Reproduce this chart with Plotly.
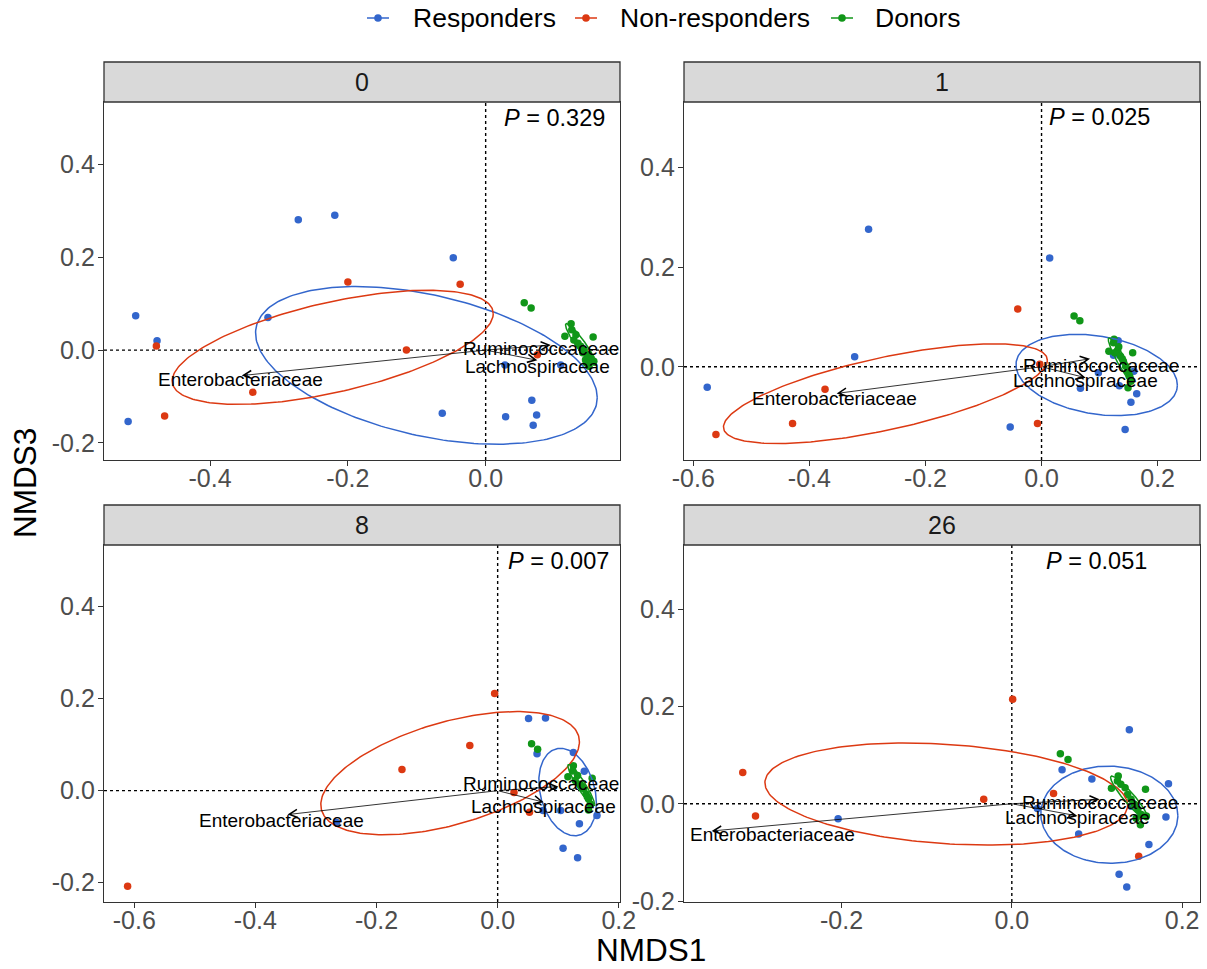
import numpy as np
import plotly.graph_objects as go

# ---------------- data ----------------
panels = ["0", "1", "8", "26"]
p_values = ["0.329", "0.025", "0.007", "0.051"]
groups = ["Responders", "Non-responders", "Donors"]
group_colors = ["#3366CC", "#DC3912", "#109618"]
env_names = ["Enterobacteriaceae", "Ruminococcaceae", "Lachnospiraceae"]

# axis ranges per panel
xrange_0 = [-0.554, 0.195]
yrange_0 = [-0.237, 0.535]
xrange_1 = [-0.616, 0.273]
yrange_1 = [-0.187, 0.531]
xrange_8 = [-0.650, 0.202]
yrange_8 = [-0.242, 0.534]
xrange_26 = [-0.385, 0.221]
yrange_26 = [-0.202, 0.532]

# tick values / labels
xticks_0 = [-0.4, -0.2, 0.0]
yticks_0 = [-0.2, 0.0, 0.2, 0.4]
xticks_1 = [-0.6, -0.4, -0.2, 0.0, 0.2]
yticks_1 = [0.0, 0.2, 0.4]
xticks_8 = [-0.6, -0.4, -0.2, 0.0, 0.2]
yticks_8 = [-0.2, 0.0, 0.2, 0.4]
xticks_26 = [-0.2, 0.0, 0.2]
yticks_26 = [-0.2, 0.0, 0.2, 0.4]

# ---- time 0 ----
resp_x_0 = [-0.272, -0.219, -0.047, -0.508, -0.477, -0.316, -0.519, -0.063, 0.029, 0.067, 0.074, 0.069, 0.028, 0.109]
resp_y_0 = [0.281, 0.291, 0.199, 0.074, 0.020, 0.070, -0.154, -0.136, -0.144, -0.108, -0.140, -0.162, -0.032, -0.032]
nonr_x_0 = [-0.200, -0.037, -0.478, -0.115, -0.338, -0.466, 0.075]
nonr_y_0 = [0.147, 0.142, 0.009, 0.000, -0.091, -0.142, -0.010]
don_x_0 = [0.056, 0.066, 0.124, 0.125, 0.115, 0.131, 0.128, 0.156, 0.138, 0.143, 0.148, 0.153, 0.157, 0.150, 0.145, 0.141, 0.134, 0.146]
don_y_0 = [0.102, 0.091, 0.057, 0.044, 0.030, 0.033, 0.022, 0.028, 0.008, 0.000, -0.010, -0.017, -0.024, -0.035, -0.021, -0.006, 0.015, -0.028]

# ---- time 1 ----
resp_x_1 = [-0.298, 0.014, -0.322, -0.576, -0.054, 0.144, 0.154, 0.164, 0.067, 0.134, 0.098, 0.132, 0.124, 0.159]
resp_y_1 = [0.276, 0.218, 0.020, -0.041, -0.121, -0.126, -0.071, -0.054, -0.043, -0.038, -0.012, 0.052, 0.023, -0.009]
nonr_x_1 = [-0.041, -0.373, -0.429, -0.561, -0.007, -0.003]
nonr_y_1 = [0.116, -0.045, -0.114, -0.136, -0.114, 0.005]
don_x_1 = [0.056, 0.066, 0.125, 0.124, 0.116, 0.131, 0.126, 0.157, 0.136, 0.141, 0.145, 0.148, 0.151, 0.154, 0.149, 0.133, 0.139]
don_y_1 = [0.102, 0.092, 0.055, 0.048, 0.031, 0.033, 0.028, 0.028, 0.021, 0.011, 0.001, -0.009, -0.019, -0.029, -0.042, 0.040, 0.016]

# ---- time 8 ----
resp_x_8 = [0.051, 0.079, 0.065, 0.125, 0.143, 0.075, 0.104, 0.135, 0.164, 0.108, 0.132, -0.266]
resp_y_8 = [0.157, 0.158, 0.080, 0.083, 0.042, -0.043, -0.043, -0.072, -0.054, -0.125, -0.146, -0.069]
nonr_x_8 = [-0.005, -0.046, -0.158, -0.611, 0.027, 0.0525]
nonr_y_8 = [0.211, 0.098, 0.046, -0.208, -0.004, -0.047]
don_x_8 = [0.056, 0.066, 0.125, 0.124, 0.116, 0.132, 0.156, 0.136, 0.142, 0.146, 0.150, 0.153, 0.150, 0.128, 0.139, 0.148]
don_y_8 = [0.102, 0.090, 0.054, 0.043, 0.030, 0.033, 0.027, 0.014, 0.004, -0.007, -0.018, -0.029, -0.042, 0.022, 0.009, -0.013]

# ---- time 26 ----
resp_x_26 = [0.138, 0.059, 0.094, 0.184, 0.181, -0.204, 0.0785, 0.161, 0.126, 0.135, 0.030, 0.140]
resp_y_26 = [0.152, 0.070, 0.051, 0.041, -0.027, -0.031, -0.062, -0.084, -0.145, -0.171, -0.010, -0.005]
nonr_x_26 = [0.001, -0.316, -0.301, -0.033, 0.049, 0.149]
nonr_y_26 = [0.215, 0.064, -0.025, 0.009, 0.021, -0.108]
don_x_26 = [0.057, 0.066, 0.125, 0.124, 0.117, 0.133, 0.157, 0.136, 0.140, 0.144, 0.148, 0.152, 0.158, 0.151, 0.128, 0.146]
don_y_26 = [0.103, 0.091, 0.057, 0.047, 0.032, 0.033, 0.030, 0.019, 0.009, -0.001, -0.012, -0.022, -0.025, -0.043, 0.040, -0.030]

# ellipses: [centre x, centre y, half-width x, half-height y, cos(phase)]
ell_resp_0 = [-0.086, -0.033, 0.248, 0.170, -0.41]
ell_nonr_0 = [-0.222, 0.006, 0.233, 0.123, 0.59]
ell_don_0 = [0.138, 0.012, 0.022, 0.045, -0.93]
ell_resp_1 = [0.095, -0.0165, 0.139, 0.0815, -0.25]
ell_nonr_1 = [-0.269, -0.054, 0.279, 0.100, 0.67]
ell_don_1 = [0.137, 0.013, 0.022, 0.045, -0.93]
ell_resp_8 = [0.1155, -0.003, 0.0475, 0.095, -0.25]
ell_nonr_8 = [-0.0785, 0.038, 0.2135, 0.134, 0.51]
ell_don_8 = [0.138, 0.012, 0.022, 0.045, -0.93]
ell_resp_26 = [0.1145, -0.0225, 0.0805, 0.100, -0.02]
ell_nonr_26 = [-0.077, 0.020, 0.213, 0.105, -0.22]
ell_don_26 = [0.138, 0.012, 0.022, 0.045, -0.93]

# envfit arrow tips and label positions (Entero, Rumino, Lachno)
tip_x_0 = [-0.354, 0.0945, 0.075]
tip_y_0 = [-0.055, 0.011, -0.022]
lab_x_0 = [-0.356, 0.080, 0.075]
lab_y_0 = [-0.063, 0.004, -0.035]
tip_x_1 = [-0.353, 0.0835, 0.076]
tip_y_1 = [-0.0535, 0.016, -0.022]
lab_x_1 = [-0.357, 0.103, 0.0765]
lab_y_1 = [-0.064, 0.003, -0.027]
tip_x_8 = [-0.347, 0.100, 0.076]
tip_y_8 = [-0.052, 0.009, -0.025]
lab_x_8 = [-0.357, 0.071, 0.0765]
lab_y_8 = [-0.064, 0.016, -0.034]
tip_x_26 = [-0.3525, 0.103, 0.077]
tip_y_26 = [-0.056, 0.009, -0.025]
lab_x_26 = [-0.281, 0.1036, 0.0773]
lab_y_26 = [-0.063, 0.003, -0.028]

p_label_x = 0.1
p_label_y = 0.5

# ---------------- assemble ----------------
panel_data = [
    dict(pts=[(resp_x_0, resp_y_0), (nonr_x_0, nonr_y_0), (don_x_0, don_y_0)],
         ell=[ell_resp_0, ell_nonr_0, ell_don_0],
         tx=tip_x_0, ty=tip_y_0, lx=lab_x_0, ly=lab_y_0,
         xr=xrange_0, yr=yrange_0, xt=xticks_0, yt=yticks_0),
    dict(pts=[(resp_x_1, resp_y_1), (nonr_x_1, nonr_y_1), (don_x_1, don_y_1)],
         ell=[ell_resp_1, ell_nonr_1, ell_don_1],
         tx=tip_x_1, ty=tip_y_1, lx=lab_x_1, ly=lab_y_1,
         xr=xrange_1, yr=yrange_1, xt=xticks_1, yt=yticks_1),
    dict(pts=[(resp_x_8, resp_y_8), (nonr_x_8, nonr_y_8), (don_x_8, don_y_8)],
         ell=[ell_resp_8, ell_nonr_8, ell_don_8],
         tx=tip_x_8, ty=tip_y_8, lx=lab_x_8, ly=lab_y_8,
         xr=xrange_8, yr=yrange_8, xt=xticks_8, yt=yticks_8),
    dict(pts=[(resp_x_26, resp_y_26), (nonr_x_26, nonr_y_26), (don_x_26, don_y_26)],
         ell=[ell_resp_26, ell_nonr_26, ell_don_26],
         tx=tip_x_26, ty=tip_y_26, lx=lab_x_26, ly=lab_y_26,
         xr=xrange_26, yr=yrange_26, xt=xticks_26, yt=yticks_26),
]

FONT = "Liberation Sans, Arial, Helvetica, sans-serif"
W, H = 1207, 969
ML, MR, MT, MB = 104, 7, 62, 67
PW, PH = W - ML - MR, H - MT - MB
col_dom = [[0.0, 0.4708], [0.5292, 1.0]]
row_dom = [[0.5262, 0.9524], [0.0, 0.425]]
strip_h = 40 / PH


def px_x(px):
    return (px - ML) / PW


def px_y(py):
    return 1 - (py - MT) / PH


fig = go.Figure()
shapes = []
annotations = []
tt = np.linspace(0, 2 * np.pi, 240)


def tick_text(v):
    return "%.1f" % v


for i, pdat in enumerate(panel_data):
    ax_id = "" if i == 0 else str(i + 1)
    xa, ya = "x" + ax_id, "y" + ax_id
    r, c = divmod(i, 2)
    # points
    for g, (px, py) in enumerate(pdat["pts"]):
        fig.add_trace(go.Scatter(
            x=px, y=py, mode="markers",
            marker=dict(color=group_colors[g], size=7.5, line=dict(width=0)),
            xaxis=xa, yaxis=ya, showlegend=False, name=groups[g]))
    # ellipses
    for g, e in enumerate(pdat["ell"]):
        cx, cy, ex, ey, cphi = e
        phi = np.arccos(cphi)
        fig.add_trace(go.Scatter(
            x=cx + ex * np.cos(tt), y=cy + ey * np.cos(tt - phi),
            mode="lines", line=dict(color=group_colors[g], width=1.5),
            xaxis=xa, yaxis=ya, showlegend=False, hoverinfo="skip", name=groups[g]))
    # zero lines
    shapes.append(dict(type="line", xref=xa, yref=ya + " domain", x0=0, x1=0, y0=0, y1=1,
                       line=dict(color="black", width=1.4, dash="dot"), layer="below"))
    shapes.append(dict(type="line", xref=xa + " domain", yref=ya, x0=0, x1=1, y0=0, y1=0,
                       line=dict(color="black", width=1.4, dash="dot"), layer="below"))
    # arrows
    for k in range(3):
        annotations.append(dict(
            xref=xa, yref=ya, axref=xa, ayref=ya,
            x=pdat["tx"][k], y=pdat["ty"][k], ax=0, ay=0,
            text="", showarrow=True, arrowhead=5, arrowsize=2.0,
            arrowwidth=0.8, arrowcolor="black", standoff=0, startstandoff=0))
    for k in range(3):
        annotations.append(dict(
            xref=xa, yref=ya, x=pdat["lx"][k], y=pdat["ly"][k],
            text=env_names[k], showarrow=False,
            font=dict(family=FONT, size=19, color="black"),
            xanchor="center", yanchor="middle"))
    # P value
    annotations.append(dict(
        xref=xa, yref=ya, x=p_label_x, y=p_label_y,
        text="<i>P</i> = " + p_values[i], showarrow=False,
        font=dict(family=FONT, size=23.5, color="black"),
        xanchor="center", yanchor="middle"))
    # strip
    y_top = row_dom[r][1]
    shapes.append(dict(type="rect", xref="paper", yref="paper",
                       x0=col_dom[c][0], x1=col_dom[c][1], y0=y_top, y1=y_top + strip_h,
                       fillcolor="#D9D9D9", line=dict(color="#333333", width=1.3), layer="above"))
    annotations.append(dict(
        xref="paper", yref="paper", x=(col_dom[c][0] + col_dom[c][1]) / 2,
        y=y_top + strip_h / 2, text=panels[i], showarrow=False,
        font=dict(family=FONT, size=25, color="#1A1A1A"),
        xanchor="center", yanchor="middle"))

    axis_common = dict(showgrid=False, zeroline=False, showline=True, mirror=True,
                       linecolor="#333333", linewidth=1.3, ticks="outside", ticklen=5,
                       tickcolor="#333333", tickwidth=1.2, automargin=False,
                       tickfont=dict(family=FONT, size=25, color="#4D4D4D"))
    fig.update_layout(**{
        ("xaxis" + ax_id): dict(domain=col_dom[c], anchor=ya, range=pdat["xr"],
                                tickvals=pdat["xt"], ticktext=[tick_text(v) for v in pdat["xt"]],
                                ticklabelstandoff=-9, **axis_common),
        ("yaxis" + ax_id): dict(domain=row_dom[r], anchor=xa, range=pdat["yr"],
                                tickvals=pdat["yt"], ticktext=[tick_text(v) for v in pdat["yt"]],
                                ticklabelstandoff=-2, **axis_common),
    })

# legend (drawn as keys: short line + dot + label)
legend_key_px = [367, 575, 831]
legend_text_px = [411, 618, 873]
legend_y_px = 18
for g in range(3):
    yk = px_y(legend_y_px)
    x0 = px_x(legend_key_px[g])
    x1 = px_x(legend_key_px[g] + 22)
    shapes.append(dict(type="line", xref="paper", yref="paper", x0=x0, x1=x1, y0=yk, y1=yk,
                       line=dict(color=group_colors[g], width=1.5)))
    shapes.append(dict(type="circle", xref="paper", yref="paper",
                       xsizemode="pixel", ysizemode="pixel",
                       xanchor=(x0 + x1) / 2, yanchor=yk,
                       x0=-3.8, x1=3.8, y0=-3.8, y1=3.8,
                       fillcolor=group_colors[g], line=dict(width=0)))
    annotations.append(dict(xref="paper", yref="paper", x=px_x(legend_text_px[g]), y=yk,
                            text=groups[g], showarrow=False,
                            font=dict(family=FONT, size=26.5, color="black"),
                            xanchor="left", yanchor="middle"))

# axis titles
annotations.append(dict(xref="paper", yref="paper", x=0.499, y=-0.057, text="NMDS1",
                        showarrow=False, font=dict(family=FONT, size=31.5, color="black"),
                        xanchor="center", yanchor="middle"))
annotations.append(dict(xref="paper", yref="paper", x=-0.072, y=0.499, text="NMDS3",
                        showarrow=False, textangle=-90,
                        font=dict(family=FONT, size=31.5, color="black"),
                        xanchor="center", yanchor="middle"))

fig.update_layout(
    width=W, height=H,
    margin=dict(l=ML, r=MR, t=MT, b=MB, autoexpand=False),
    paper_bgcolor="white", plot_bgcolor="white",
    shapes=shapes, annotations=annotations,
    showlegend=False,
    font=dict(family=FONT),
)

fig.write_html("out.html")
